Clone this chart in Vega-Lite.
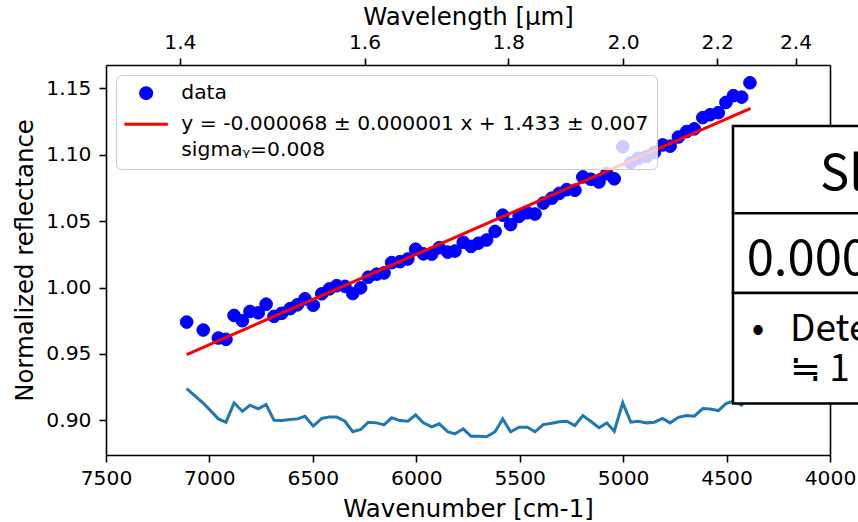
{
  "$schema": "https://vega.github.io/schema/vega-lite/v6.json",
  "width": 724,
  "height": 390,
  "autosize": {"type": "none"},
  "padding": {"left": 106, "top": 65, "right": 28, "bottom": 67},
  "background": "white",
  "config": {
    "view": {"stroke": null},
    "style": {"guide-label": {"lineHeight": 26}},
    "axis": {
      "labelFont": "DejaVu Sans", "labelFontSize": 20.3, "labelColor": "#000000",
      "titleFont": "DejaVu Sans", "titleFontSize": 24.4, "titleFontWeight": "normal", "titleColor": "#000000",
      "domainColor": "#000000", "domainWidth": 1.6, "tickColor": "#000000", "tickWidth": 1.6, "tickSize": 7,
      "grid": false, "labelFlush": false, "labelOverlap": false, "labelPadding": 6
    },
    "legend": {
      "orient": "none", "legendX": 10, "legendY": 10, "title": null,
      "fillColor": "rgba(255,255,255,0.8)", "strokeColor": "#cccccc", "cornerRadius": 5, "padding": 8,
      "labelFont": "DejaVu Sans", "labelFontSize": 20.3, "labelColor": "#000000", "labelLimit": 700,
      "symbolSize": 121, "symbolStrokeWidth": 3, "symbolOffset": 12, "labelOffset": 25, "rowPadding": 9
    }
  },
  "datasets": {
    "pts": [
      {"wn": 7110, "refl": 0.974, "resid": 0.9239, "series": "data"},
      {"wn": 7030, "refl": 0.968, "resid": 0.913, "series": "data"},
      {"wn": 6957, "refl": 0.962, "resid": 0.9011, "series": "data"},
      {"wn": 6920, "refl": 0.961, "resid": 0.8986, "series": "data"},
      {"wn": 6881, "refl": 0.979, "resid": 0.9132, "series": "data"},
      {"wn": 6841, "refl": 0.975, "resid": 0.9068, "series": "data"},
      {"wn": 6804, "refl": 0.982, "resid": 0.9114, "series": "data"},
      {"wn": 6764, "refl": 0.981, "resid": 0.9086, "series": "data"},
      {"wn": 6726, "refl": 0.9875, "resid": 0.9119, "series": "data"},
      {"wn": 6688, "refl": 0.9783, "resid": 0.9001, "series": "data"},
      {"wn": 6651, "refl": 0.9806, "resid": 0.8998, "series": "data"},
      {"wn": 6610, "refl": 0.9841, "resid": 0.9006, "series": "data"},
      {"wn": 6575, "refl": 0.987, "resid": 0.9011, "series": "data"},
      {"wn": 6538, "refl": 0.9915, "resid": 0.9031, "series": "data"},
      {"wn": 6498, "refl": 0.9867, "resid": 0.8956, "series": "data"},
      {"wn": 6457, "refl": 0.9953, "resid": 0.9014, "series": "data"},
      {"wn": 6420, "refl": 0.999, "resid": 0.9026, "series": "data"},
      {"wn": 6385, "refl": 1.0014, "resid": 0.9026, "series": "data"},
      {"wn": 6345, "refl": 1.0009, "resid": 0.8993, "series": "data"},
      {"wn": 6307, "refl": 0.9955, "resid": 0.8914, "series": "data"},
      {"wn": 6269, "refl": 0.9998, "resid": 0.8931, "series": "data"},
      {"wn": 6232, "refl": 1.0078, "resid": 0.8986, "series": "data"},
      {"wn": 6191, "refl": 1.0101, "resid": 0.8981, "series": "data"},
      {"wn": 6156, "refl": 1.011, "resid": 0.8966, "series": "data"},
      {"wn": 6119, "refl": 1.0188, "resid": 0.9019, "series": "data"},
      {"wn": 6079, "refl": 1.0195, "resid": 0.8998, "series": "data"},
      {"wn": 6041, "refl": 1.0215, "resid": 0.8993, "series": "data"},
      {"wn": 6003, "refl": 1.0289, "resid": 0.9041, "series": "data"},
      {"wn": 5966, "refl": 1.0254, "resid": 0.8981, "series": "data"},
      {"wn": 5925, "refl": 1.0252, "resid": 0.8951, "series": "data"},
      {"wn": 5889, "refl": 1.03, "resid": 0.8974, "series": "data"},
      {"wn": 5848, "refl": 1.0267, "resid": 0.8914, "series": "data"},
      {"wn": 5813, "refl": 1.0275, "resid": 0.8898, "series": "data"},
      {"wn": 5773, "refl": 1.0341, "resid": 0.8936, "series": "data"},
      {"wn": 5735, "refl": 1.031, "resid": 0.888, "series": "data"},
      {"wn": 5700, "refl": 1.0334, "resid": 0.888, "series": "data"},
      {"wn": 5660, "refl": 1.0358, "resid": 0.8876, "series": "data"},
      {"wn": 5619, "refl": 1.0423, "resid": 0.8914, "series": "data"},
      {"wn": 5582, "refl": 1.0545, "resid": 0.9011, "series": "data"},
      {"wn": 5544, "refl": 1.0474, "resid": 0.8914, "series": "data"},
      {"wn": 5503, "refl": 1.0536, "resid": 0.8948, "series": "data"},
      {"wn": 5463, "refl": 1.0563, "resid": 0.8948, "series": "data"},
      {"wn": 5426, "refl": 1.0554, "resid": 0.8914, "series": "data"},
      {"wn": 5386, "refl": 1.0636, "resid": 0.8968, "series": "data"},
      {"wn": 5345, "refl": 1.0673, "resid": 0.8978, "series": "data"},
      {"wn": 5309, "refl": 1.0709, "resid": 0.8989, "series": "data"},
      {"wn": 5273, "refl": 1.0737, "resid": 0.8993, "series": "data"},
      {"wn": 5233, "refl": 1.0733, "resid": 0.8961, "series": "data"},
      {"wn": 5195, "refl": 1.0833, "resid": 0.9036, "series": "data"},
      {"wn": 5157, "refl": 1.0816, "resid": 0.8993, "series": "data"},
      {"wn": 5117, "refl": 1.0795, "resid": 0.8944, "series": "data"},
      {"wn": 5079, "refl": 1.0857, "resid": 0.8981, "series": "data"},
      {"wn": 5043, "refl": 1.0819, "resid": 0.8918, "series": "data"},
      {"wn": 5002, "refl": 1.106, "resid": 0.9132, "series": "data"},
      {"wn": 4963, "refl": 1.0941, "resid": 0.8986, "series": "data"},
      {"wn": 4927, "refl": 1.0973, "resid": 0.8993, "series": "data"},
      {"wn": 4886, "refl": 1.0988, "resid": 0.8981, "series": "data"},
      {"wn": 4849, "refl": 1.1018, "resid": 0.8986, "series": "data"},
      {"wn": 4809, "refl": 1.1074, "resid": 0.9014, "series": "data"},
      {"wn": 4773, "refl": 1.1065, "resid": 0.8981, "series": "data"},
      {"wn": 4733, "refl": 1.1134, "resid": 0.9023, "series": "data"},
      {"wn": 4693, "refl": 1.1175, "resid": 0.9036, "series": "data"},
      {"wn": 4656, "refl": 1.1195, "resid": 0.9031, "series": "data"},
      {"wn": 4615, "refl": 1.128, "resid": 0.9089, "series": "data"},
      {"wn": 4580, "refl": 1.1301, "resid": 0.9086, "series": "data"},
      {"wn": 4540, "refl": 1.1317, "resid": 0.9074, "series": "data"},
      {"wn": 4503, "refl": 1.1394, "resid": 0.9126, "series": "data"},
      {"wn": 4467, "refl": 1.1445, "resid": 0.9144, "series": "data"},
      {"wn": 4427, "refl": 1.1434, "resid": 0.9114, "series": "data"},
      {"wn": 4387, "refl": 1.1542, "resid": 0.9195, "series": "data"}
    ],
    "fit": [
      {"wn": 7110, "refl": 0.9495},
      {"wn": 4384, "refl": 1.1349}
    ],
    "box": [
      {"x": 4469, "x2": 3800, "y": 1.1217, "y2": 1.056},
      {"x": 4469, "x2": 3800, "y": 1.056, "y2": 0.9959},
      {"x": 4469, "x2": 3800, "y": 0.9959, "y2": 0.9126}
    ],
    "txtBig": [
      {"x": 4048, "y": 1.0735, "t": "Sl"},
      {"x": 4403, "y": 1.0096, "t": "0.000"}
    ],
    "txtMid": [
      {"x": 4378, "y": 0.9594, "t": "•"},
      {"x": 4193, "y": 0.9594, "t": "Dete"},
      {"x": 4193, "y": 0.9294, "t": "≒ 1"}
    ]
  },
  "resolve": {"axis": {"x": "independent", "y": "independent"}},
  "layer": [
    {
      "data": {"name": "pts"},
      "mark": {"type": "line", "color": "#1f77b4", "strokeWidth": 3},
      "encoding": {
        "x": {"field": "wn", "type": "quantitative",
              "scale": {"domain": [4000, 7500], "reverse": true, "nice": false, "zero": false},
              "axis": {"orient": "bottom", "title": "Wavenumber [cm-1]", "values": [7500, 7000, 6500, 6000, 5500, 5000, 4500, 4000], "format": "d", "titlePadding": 9}},
        "y": {"field": "resid", "type": "quantitative",
              "scale": {"domain": [0.8739, 1.1676], "nice": false, "zero": false},
              "axis": {"orient": "left", "title": "Normalized reflectance", "values": [0.9, 0.95, 1.0, 1.05, 1.1, 1.15], "format": ".2f", "labelPadding": 8, "titlePadding": 8}}
      }
    },
    {
      "data": {"name": "pts"},
      "mark": {"type": "point", "filled": true, "size": 160, "strokeWidth": 1, "opacity": 1},
      "encoding": {
        "x": {"field": "wn", "type": "quantitative", "axis": null},
        "y": {"field": "refl", "type": "quantitative", "axis": null},
        "color": {"field": "series", "type": "nominal",
                  "scale": {"domain": ["data", "fit"], "range": ["#0000ff", "#ff0000"]},
                  "legend": {
                    "labelExpr": "datum.value === 'fit' ? ['y = -0.000068 ± 0.000001 x + 1.433 ± 0.007', 'sigmaᵧ=0.008'] : datum.label"
                  }},
        "stroke": {"field": "series", "type": "nominal",
                  "scale": {"domain": ["data", "fit"], "range": ["#0000ff", "#ff0000"]},
                  "legend": {
                    "labelExpr": "datum.value === 'fit' ? ['y = -0.000068 ± 0.000001 x + 1.433 ± 0.007', 'sigmaᵧ=0.008'] : datum.label"
                  }},
        "shape": {"field": "series", "type": "nominal",
                  "scale": {"domain": ["data", "fit"], "range": ["circle", "M-3.95,0H3.95"]},
                  "legend": {
                    "labelExpr": "datum.value === 'fit' ? ['y = -0.000068 ± 0.000001 x + 1.433 ± 0.007', 'sigmaᵧ=0.008'] : datum.label"
                  }}
      }
    },
    {
      "data": {"name": "fit"},
      "mark": {"type": "line", "color": "#ff0000", "strokeWidth": 3},
      "encoding": {
        "x": {"field": "wn", "type": "quantitative",
              "axis": {"orient": "top", "title": "Wavelength [µm]",
                       "values": [7142.857142857143, 6250, 5555.555555555556, 5000, 4545.454545454545, 4166.666666666667],
                       "labelExpr": "format(10000 / datum.value, '.1f')", "titlePadding": 3}},
        "y": {"field": "refl", "type": "quantitative",
              "axis": {"orient": "right", "title": null, "labels": false, "ticks": false}}
      }
    },
    {
      "data": {"name": "box"},
      "mark": {"type": "rect", "fill": "#ffffff", "stroke": "#000000", "strokeWidth": 2.5},
      "encoding": {
        "x": {"field": "x", "type": "quantitative", "axis": null},
        "x2": {"field": "x2"},
        "y": {"field": "y", "type": "quantitative", "axis": null},
        "y2": {"field": "y2"}
      }
    },
    {
      "data": {"name": "txtBig"},
      "mark": {"type": "text", "font": "Noto Sans CJK JP", "fontSize": 49, "align": "left", "baseline": "alphabetic", "color": "#000000"},
      "encoding": {
        "x": {"field": "x", "type": "quantitative", "axis": null},
        "y": {"field": "y", "type": "quantitative", "axis": null},
        "text": {"field": "t"}
      }
    },
    {
      "data": {"name": "txtMid"},
      "mark": {"type": "text", "font": "Noto Sans CJK JP", "fontSize": 37, "align": "left", "baseline": "alphabetic", "color": "#000000"},
      "encoding": {
        "x": {"field": "x", "type": "quantitative", "axis": null},
        "y": {"field": "y", "type": "quantitative", "axis": null},
        "text": {"field": "t"}
      }
    }
  ]
}
